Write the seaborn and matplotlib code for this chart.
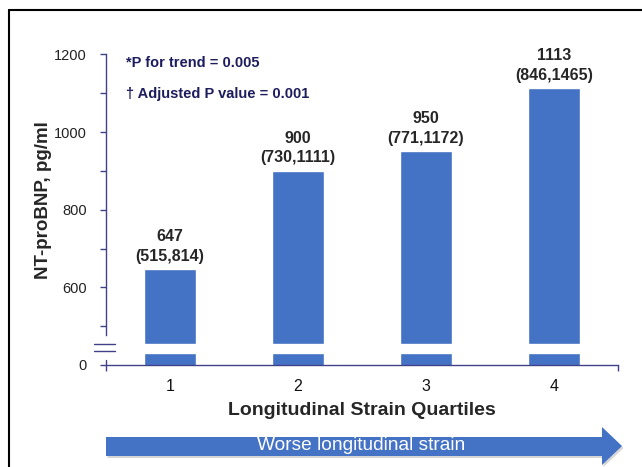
import numpy as np
import matplotlib
matplotlib.use("Agg")
import matplotlib.pyplot as plt
from matplotlib.patches import Polygon
from matplotlib.lines import Line2D
import seaborn as sns

# -----------------------------
# Data
# -----------------------------
quartiles = ["1", "2", "3", "4"]
medians = [647, 900, 950, 1113]
ci_low = [515, 730, 771, 846]
ci_high = [814, 1111, 1172, 1465]

ytick_values = [400, 500, 600, 700, 800, 900, 1000, 1100, 1200]
ytick_labels = ["0", "", "600", "", "800", "", "1000", "", "1200"]

BAR_COLOR = "#4472C4"
AXIS_COLOR = "#41418a"
NOTE_COLOR = "#1d1d5e"

W, H = 642, 467

sns.set_style("white")
plt.rcParams["font.family"] = ["Liberation Sans", "DejaVu Sans"]

fig = plt.figure(figsize=(W / 100, H / 100), dpi=100)
ax = fig.add_axes([106 / W, 1 - 365 / H, 512 / W, 330 / H])

sns.barplot(x=quartiles, y=medians, width=0.4, color=BAR_COLOR, saturation=1, ax=ax)

ax.set_xlim(-0.5, 3.5)
ax.set_ylim(400, 1250)

# axis break band across the bars
ax.axhspan(432, 455, color="white", zorder=3)

# -----------------------------
# Axes styling
# -----------------------------
for side in ["top", "right"]:
    ax.spines[side].set_visible(False)
ax.spines["left"].set_bounds(476, 1200)
ax.spines["left"].set_color(AXIS_COLOR)
ax.spines["bottom"].set_color(AXIS_COLOR)
ax.spines["left"].set_linewidth(1.0)
ax.spines["bottom"].set_linewidth(1.0)

ax.set_yticks(ytick_values)
ax.set_yticklabels(ytick_labels, fontsize=10.5, color="#222222")
ax.tick_params(axis="y", direction="out", length=4, width=1.0, color=AXIS_COLOR, pad=10, left=True)

ax.set_xticks(range(len(quartiles)))
ax.set_xticklabels(quartiles, fontsize=11.5, color="#111111")
ax.tick_params(axis="x", length=0, pad=10)
ax.set_xticks([-0.5, 3.5], minor=True)
ax.tick_params(axis="x", which="minor", direction="out", length=4, width=1.0, color=AXIS_COLOR, bottom=True)

# short spine piece below the break and break marks
ax.plot([-0.5, -0.5], [400, 412], color=AXIS_COLOR, lw=1.0, clip_on=False, zorder=4)
for yb in [437, 455]:
    ax.plot([-0.59, -0.43], [yb, yb], color=AXIS_COLOR, lw=1.0, clip_on=False, zorder=4)

ax.set_xlabel("Longitudinal Strain Quartiles", fontsize=14, fontweight="bold", labelpad=6)
ax.set_ylabel("NT-proBNP, pg/ml", fontsize=13.5, fontweight="bold", labelpad=1)

# -----------------------------
# Bar labels and notes
# -----------------------------
for i, (m, lo, hi) in enumerate(zip(medians, ci_low, ci_high)):
    ax.annotate(f"{m}\n({lo},{hi})", xy=(i, m), xytext=(0, 4), textcoords="offset points",
                ha="center", va="bottom", fontsize=11.5, fontweight="bold",
                linespacing=1.4, annotation_clip=False)

ax.text(0.04, 0.915, "*P for trend = 0.005", transform=ax.transAxes,
        fontsize=10.5, fontweight="bold", color=NOTE_COLOR, va="center")
ax.text(0.04, 0.82, "\u2020 Adjusted P value = 0.001", transform=ax.transAxes,
        fontsize=10.5, fontweight="bold", color=NOTE_COLOR, va="center")

# -----------------------------
# Bottom arrow
# -----------------------------
def px(x, y):
    return (x / W, 1 - y / H)

arrow_pts = [(106, 437), (602, 437), (602, 427), (622, 446), (602, 465), (602, 456), (106, 456)]
shadow = Polygon([px(x + 1.5, y + 2) for x, y in arrow_pts], closed=True,
                 transform=fig.transFigure, facecolor="#bbbbbb", edgecolor="none", alpha=0.6)
arrow = Polygon([px(x, y) for x, y in arrow_pts], closed=True,
                transform=fig.transFigure, facecolor=BAR_COLOR, edgecolor="none")
fig.patches.extend([shadow, arrow])
fig.text(361 / W, 1 - 445 / H, "Worse longitudinal strain", color="white",
         fontsize=13.75, ha="center", va="center")

# frame lines
fig.lines.append(Line2D([9 / W, 1], [1 - 10 / H, 1 - 10 / H], transform=fig.transFigure, color="black", lw=1.5))
fig.lines.append(Line2D([9 / W, 9 / W], [0, 1 - 10 / H], transform=fig.transFigure, color="black", lw=1.5))

fig.savefig("out.png", dpi=100)
